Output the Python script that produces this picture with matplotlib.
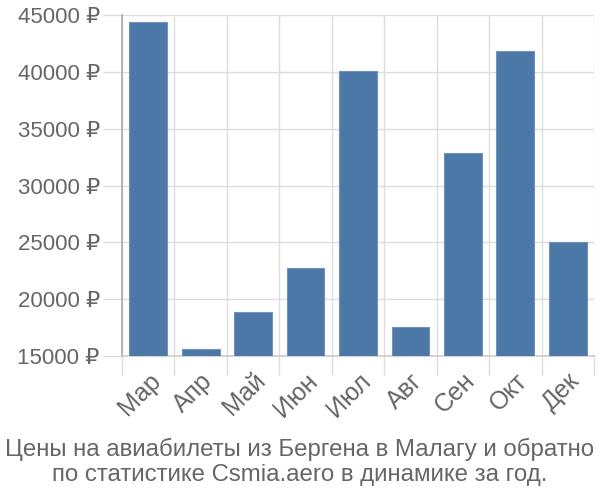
import numpy as np
import matplotlib
matplotlib.use("Agg")
import matplotlib.pyplot as plt
from matplotlib.ticker import FixedLocator

plt.rcParams['font.family'] = ['Liberation Sans', 'DejaVu Sans']

months = ['Мар', 'Апр', 'Май', 'Июн', 'Июл', 'Авг', 'Сен', 'Окт', 'Дек']
prices = [44400, 15600, 18850, 22750, 40100, 17550, 32850, 41850, 25000]
yticks = [15000, 20000, 25000, 30000, 35000, 40000, 45000]
title = 'Цены на авиабилеты из Бергена в Малагу и обратно\nпо статистике Csmia.aero в динамике за год.'

bar_color = '#4c78a8'
text_color = '#666666'
grid_color = '#dddddd'

fig = plt.figure(figsize=(6, 5), dpi=100)
ax = fig.add_axes([122/600, 1-356/500, (594-122)/600, (356-15)/500])

x = np.arange(len(months))
ax.bar(x, prices, width=0.72, color=bar_color, edgecolor='#6f93bd', linewidth=0.8,
       bottom=0, zorder=3)
ax.set_xlim(-0.5, len(months)-0.5)
ax.set_ylim(15000, 45000)

# gridlines at category boundaries, ticks there too
ax.xaxis.set_major_locator(FixedLocator(x))
ax.xaxis.set_minor_locator(FixedLocator(np.arange(len(months)+1)-0.5))
ax.set_xticklabels(months, rotation=45, ha='right', rotation_mode='anchor',
                   fontsize=18, color=text_color)
ax.tick_params(axis='x', which='major', length=0, pad=9)
ax.tick_params(axis='x', which='minor', length=14, color=grid_color, width=1)
ax.grid(axis='x', which='minor', color=grid_color, linewidth=1, zorder=0)

ax.set_yticks(yticks)
ax.set_yticklabels(['%d ₽' % v for v in yticks], fontsize=16, color=text_color)
ax.tick_params(axis='y', length=14, color=grid_color, width=1, pad=2)
ax.grid(axis='y', color=grid_color, linewidth=1, zorder=0)

for s in ['top', 'right']:
    ax.spines[s].set_visible(False)
ax.spines['left'].set_color('#aaaaaa')
ax.spines['bottom'].set_color('#cccccc')
ax.spines['left'].set_linewidth(1.2)
ax.spines['bottom'].set_linewidth(1.2)

fig.text(0.5, 0.076, title, ha='center', va='center', fontsize=17.3,
         color=text_color, linespacing=1.15)

fig.savefig('out.png', dpi=100)
